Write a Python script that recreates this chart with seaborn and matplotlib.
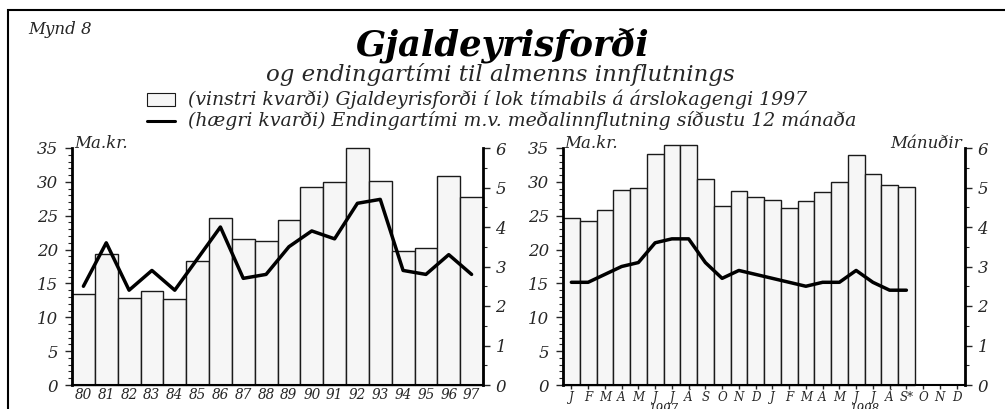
import numpy as np
import pandas as pd
import matplotlib
matplotlib.use("Agg")
import matplotlib.pyplot as plt
from matplotlib.patches import Rectangle
from matplotlib.lines import Line2D
from matplotlib.ticker import MultipleLocator
import seaborn as sns

# Árleg gögn 1980-1997
years = ["80","81","82","83","84","85","86","87","88","89",
         "90","91","92","93","94","95","96","97"]
reserves_y = [13.5, 19.4, 12.9, 13.9, 12.7, 18.3, 24.7, 21.5, 21.2, 24.3,
              29.2, 30.0, 35.0, 30.2, 19.8, 20.3, 30.9, 27.8]
months_y = [2.5, 3.6, 2.4, 2.9, 2.4, 3.2, 4.0, 2.7, 2.8, 3.5,
            3.9, 3.7, 4.6, 4.7, 2.9, 2.8, 3.3, 2.8]

# Mánaðargögn jan 1997 - sep 1998
month_labels = ["J","F","M","A","M","J","J","Á","S","O","N","D",
                "J","F","M","A","M","J","J","Á","S*","O","N","D"]
reserves_m = [24.7, 24.2, 25.9, 28.8, 29.1, 34.1, 35.5, 35.4, 30.4, 26.4, 28.6, 27.8,
              27.3, 26.2, 27.2, 28.5, 30.0, 33.9, 31.1, 29.5, 29.2]
months_m = [2.6, 2.6, 2.8, 3.0, 3.1, 3.6, 3.7, 3.7, 3.1, 2.7, 2.9, 2.8,
            2.7, 2.6, 2.5, 2.6, 2.6, 2.9, 2.6, 2.4, 2.4]

FONT = ["DejaVu Serif"]
sns.set_style("white")
plt.rcParams["font.family"] = FONT
plt.rcParams["font.style"] = "italic"

BAR_FC, BAR_EC = "#f6f6f6", "#1a1a1a"

fig = plt.figure(figsize=(10.05, 4.09), dpi=100)
W, H = 1005, 409
def fx(px): return px / W
def fy(py): return 1 - py / H

# ramminn utan um myndina
fig.patches.append(Rectangle((fx(8), fy(420)), 1.2, fy(10) - fy(420), transform=fig.transFigure,
                             fill=False, lw=1.5, ec="black"))

fig.text(fx(28), fy(30), "Mynd 8", fontsize=12, style="italic", va="center")
fig.text(fx(503), fy(45), "Gjaldeyrisforði", fontsize=25.5, weight="bold", style="italic",
         ha="center", va="center", color="black")
fig.text(fx(500), fy(75), "og endingartími til almenns innflutnings", fontsize=16.5,
         style="italic", ha="center", va="center")
fig.patches.append(Rectangle((fx(147), fy(106)), fx(28), fy(93) - fy(106), transform=fig.transFigure,
                             fc=BAR_FC, ec=BAR_EC, lw=0.8))
fig.lines.append(Line2D([fx(147), fx(175)], [fy(121), fy(121)], transform=fig.transFigure,
                        color="black", lw=2.2))
fig.text(fx(188), fy(99), "(vinstri kvarði) Gjaldeyrisforði í lok tímabils á árslokagengi 1997",
         fontsize=13.6, style="italic", va="center")
fig.text(fx(188), fy(120), "(hægri kvarði) Endingartími m.v. meðalinnflutning síðustu 12 mánaða",
         fontsize=13.6, style="italic", va="center")


def style_axes(ax, ax2):
    ax.spines["top"].set_visible(False)
    ax2.spines["top"].set_visible(False)
    ax.spines["left"].set_linewidth(2)
    ax.spines["bottom"].set_linewidth(1.5)
    ax2.spines["right"].set_linewidth(2)
    for s in ("left", "bottom", "right", "top"):
        ax.spines[s].set_color("black")
        ax2.spines[s].set_color("black")
    ax2.spines["left"].set_visible(False)
    ax2.spines["bottom"].set_visible(False)
    ax.set_ylim(0, 35)
    ax.set_yticks(range(0, 36, 5))
    ax.yaxis.set_minor_locator(MultipleLocator(1))
    ax.tick_params(axis="y", which="major", direction="out", length=5, width=1, labelsize=12, pad=5, left=True)
    ax.tick_params(axis="y", which="minor", direction="out", length=3, width=0.8, left=True)
    ax2.set_ylim(0, 6)
    ax2.set_yticks(range(0, 7))
    ax2.yaxis.set_minor_locator(MultipleLocator(0.5))
    ax2.tick_params(axis="y", which="major", direction="out", length=5, width=1, labelsize=12, pad=4, right=True)
    ax2.tick_params(axis="y", which="minor", direction="out", length=3, width=0.8, right=True)
    ax.set_xlabel(""); ax.set_ylabel(""); ax2.set_xlabel(""); ax2.set_ylabel("")
    ax.grid(False); ax2.grid(False)
    for p in ax.patches:
        p.set_facecolor(BAR_FC)
        p.set_clip_on(False)


# Vinstri: árleg gögn
ax1 = fig.add_axes([fx(72), fy(385), fx(483) - fx(72), fy(148) - fy(385)])
df_y = pd.DataFrame({"ar": years, "forði": reserves_y, "mán": months_y})
sns.barplot(data=df_y, x="ar", y="forði", ax=ax1, color=BAR_FC, width=1.0,
            edgecolor=BAR_EC, linewidth=1.0, saturation=1)
ax1b = ax1.twinx()
sns.lineplot(x=np.arange(len(years)), y=df_y["mán"], ax=ax1b, color="black", lw=2.5)
ax1.set_xlim(-0.5, len(years) - 0.5)
style_axes(ax1, ax1b)
ax1.tick_params(axis="x", length=0, labelsize=9.8, pad=2)

# Hægri: mánaðargögn
ax2 = fig.add_axes([fx(563), fy(385), fx(965) - fx(563), fy(148) - fy(385)])
pos = np.arange(len(reserves_m))
df_m = pd.DataFrame({"pos": pos, "forði": reserves_m, "mán": months_m})
sns.barplot(data=df_m, x="pos", y="forði", ax=ax2, color=BAR_FC, width=1.0,
            edgecolor=BAR_EC, linewidth=1.0, saturation=1)
ax2b = ax2.twinx()
sns.lineplot(x=pos, y=df_m["mán"], ax=ax2b, color="black", lw=2.5)
ax2.set_xlim(-0.5, len(month_labels) - 0.5)
style_axes(ax2, ax2b)
ax2.set_xticks(range(len(month_labels)), month_labels)
ax2.tick_params(axis="x", direction="out", length=3, width=1, labelsize=8.6, pad=1, bottom=True)
ax2.text(5.5, -0.078, "1997", transform=ax2.get_xaxis_transform(), ha="center", va="top", fontsize=8.6)
ax2.text(17.5, -0.078, "1998", transform=ax2.get_xaxis_transform(), ha="center", va="top", fontsize=8.6)

# ás-titlar
fig.text(fx(74), fy(143), "Ma.kr.", fontsize=12, style="italic", va="center")
fig.text(fx(564), fy(143), "Ma.kr.", fontsize=12, style="italic", va="center")
fig.text(fx(962), fy(143), "Mánuðir", fontsize=12, style="italic", va="center", ha="right")

fig.savefig("out.png", dpi=100)
